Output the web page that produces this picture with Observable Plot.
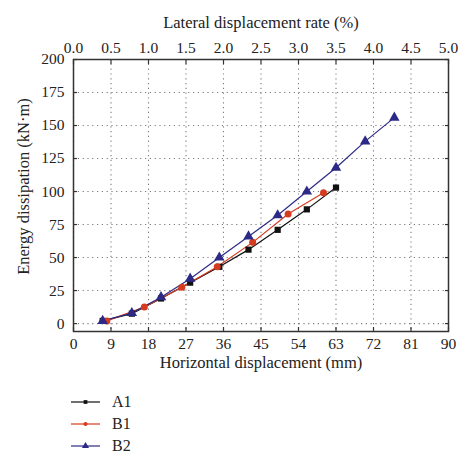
<!DOCTYPE html>
<html>
<head>
<meta charset="utf-8">
<script src="https://cdn.jsdelivr.net/npm/d3@7"></script>
<script src="https://cdn.jsdelivr.net/npm/@observablehq/plot@0.6"></script>
<style>
  html, body { margin: 0; padding: 0; background: #fff; }
  body { width: 474px; height: 467px; overflow: hidden; font-family: "Liberation Serif", "Times New Roman", serif; }
  #legend { padding-top: 13px; }
  .row { display: flex; align-items: center; height: 22px; margin-left: 71px; font-size: 16px; color: #222; }
  .row svg { display: block; }
  .row span { margin-left: 12px; }
</style>
</head>
<body>
<div id="chart"></div>
<div id="legend"></div>
<script>
// ---- data ----
const seriesNames = ["A1", "B1", "B2"];
const A1_x = [7, 14, 21, 28, 35, 42, 49, 56, 63];
const A1_y = [2, 7.5, 19, 31, 43, 56, 71, 86.5, 103];
const B1_x = [8, 17, 26, 34.5, 43, 51.5, 60];
const B1_y = [2, 12.5, 27.5, 43, 61.5, 83, 99];
const B2_x = [7, 14, 21, 28, 35, 42, 49, 56, 63, 70, 77];
const B2_y = [2, 8, 20, 34, 50, 66, 82, 100, 118, 138, 156];

const mmTicks = [0, 9, 18, 27, 36, 45, 54, 63, 72, 81, 90];
const rateLabels = ["0.0", "0.5", "1.0", "1.5", "2.0", "2.5", "3.0", "3.5", "4.0", "4.5", "5.0"];
const energyTicks = [0, 25, 50, 75, 100, 125, 150, 175, 200];

const xTitle = "Horizontal displacement (mm)";
const topTitle = "Lateral displacement rate (%)";
const yTitle = "Energy dissipation (kN·m)";

// ---- styling ----
const styles = {
  A1: {color: "#111111", symbol: "square", r: 3.5},
  B1: {color: "#d63b1f", symbol: "circle", r: 3.5},
  B2: {color: "#2c2a86", symbol: "triangle", r: 3.9}
};
const seriesData = {A1: [A1_x, A1_y], B1: [B1_x, B1_y], B2: [B2_x, B2_y]};

const rows = seriesNames.flatMap(name => {
  const [xs, ys] = seriesData[name];
  return xs.map((x, i) => ({series: name, x, y: ys[i]}));
});

const gridStyle = {stroke: "#7a7a7a", strokeOpacity: 1, strokeWidth: 1.1, strokeDasharray: "1.2,3.6"};
const tickStyle = {stroke: "#333", strokeWidth: 1.2, tickFormat: () => "", label: null, tickSize: 4};
const titleFont = 16.5;

const marks = [
  Plot.gridX(mmTicks, gridStyle),
  Plot.gridY(energyTicks, gridStyle),
  // inward ticks
  Plot.axisX(mmTicks, {...tickStyle, anchor: "bottom", dy: -4}),
  Plot.axisX(mmTicks, {...tickStyle, anchor: "top", dy: 4}),
  Plot.axisY(energyTicks, {...tickStyle, anchor: "left", dx: 4}),
  Plot.axisY(energyTicks, {...tickStyle, anchor: "right", dx: -4}),
  // labels
  Plot.axisX(mmTicks, {anchor: "bottom", tickSize: 0, tickPadding: 6, label: null, fill: "#222", fontSize: 15.5}),
  Plot.axisX(mmTicks, {anchor: "top", tickSize: 0, tickPadding: 7, label: null, fill: "#222", fontSize: 15.5,
    tickFormat: d => rateLabels[mmTicks.indexOf(d)]}),
  Plot.axisY(energyTicks, {anchor: "left", tickSize: 0, tickPadding: 9, label: null, fill: "#222", fontSize: 15.5}),
  Plot.frame({stroke: "#333", strokeWidth: 1.5}),
  Plot.text([xTitle], {frameAnchor: "bottom", dy: 36, fontSize: titleFont, fill: "#222"}),
  Plot.text([topTitle], {frameAnchor: "top", dy: -43, fontSize: titleFont, fill: "#222"}),
  Plot.text([yTitle], {frameAnchor: "left", textAnchor: "middle", dx: -50, dy: -9, rotate: -90, fontSize: titleFont, fill: "#222"})
];

for (const name of seriesNames) {
  const s = styles[name];
  const d = rows.filter(r => r.series === name);
  marks.push(Plot.line(d, {x: "x", y: "y", stroke: s.color, strokeWidth: 1.2}));
}
for (const name of seriesNames) {
  const s = styles[name];
  const d = rows.filter(r => r.series === name);
  marks.push(Plot.dot(d, {x: "x", y: "y", fill: s.color, stroke: "none", symbol: s.symbol, r: s.r}));
}

const chart = Plot.plot({
  width: 474,
  height: 378,
  marginLeft: 73,
  marginRight: 26,
  marginTop: 59,
  marginBottom: 47,
  style: {fontFamily: "'Liberation Serif', 'Times New Roman', serif", fontSize: "15px", background: "#fff", overflow: "visible"},
  x: {domain: [0, 90]},
  y: {domain: [-6, 200]},
  marks
});
document.getElementById("chart").appendChild(chart);

// ---- legend ----
const legend = document.getElementById("legend");
for (const name of seriesNames) {
  const s = styles[name];
  const row = document.createElement("div");
  row.className = "row";
  const svg = d3.create("svg").attr("width", 29).attr("height", 12);
  svg.append("line").attr("x1", 0).attr("x2", 29).attr("y1", 6).attr("y2", 6)
    .attr("stroke", s.color).attr("stroke-width", 1.2);
  const sym = {square: d3.symbolSquare, circle: d3.symbolCircle, triangle: d3.symbolTriangle}[s.symbol];
  svg.append("path").attr("transform", "translate(14.5,6)")
    .attr("d", d3.symbol(sym, s.symbol === "triangle" ? 22 : 14)())
    .attr("fill", s.color);
  row.appendChild(svg.node());
  const label = document.createElement("span");
  label.textContent = name;
  row.appendChild(label);
  legend.appendChild(row);
}
</script>
</body>
</html>
